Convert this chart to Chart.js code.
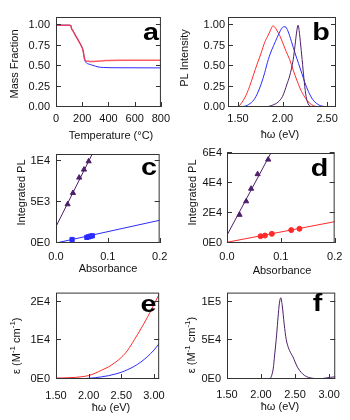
<!DOCTYPE html>
<html>
<head>
<meta charset="utf-8">
<script src="https://cdn.jsdelivr.net/npm/chart.js@4.4.1/dist/chart.umd.min.js"></script>
<style>
  body { margin: 0; background: #fff; }
  #fig { position: relative; width: 350px; height: 420px; overflow: hidden; }
  #fig canvas { position: absolute; }
</style>
</head>
<body>
<div id="fig"></div>
<script>
'use strict';

// (a) mass fraction vs temperature
const tgaTempRed = [0, 100, 114, 118, 126, 150, 175, 195, 205, 212, 218, 228, 250, 280, 320, 380, 500, 800];
const tgaMassRed = [1.0, 1.0, 0.995, 0.96, 0.94, 0.87, 0.80, 0.74, 0.70, 0.64, 0.59, 0.565, 0.558, 0.555, 0.56, 0.567, 0.57, 0.57];
const tgaTempBlue = [0, 100, 114, 118, 126, 150, 175, 195, 205, 212, 218, 228, 250, 280, 320, 360, 450, 800];
const tgaMassBlue = [1.0, 1.0, 0.995, 0.96, 0.94, 0.87, 0.80, 0.74, 0.70, 0.635, 0.58, 0.545, 0.525, 0.51, 0.49, 0.483, 0.48, 0.478];
const tempTicks = [0, 200, 400, 600, 800];
const tempLabels = ['0', '200', '400', '600', '800'];
const fracTicks = [0, 0.25, 0.5, 0.75, 1.0];
const fracLabels = ['0.00', '0.25', '0.50', '0.75', '1.00'];

// (b) normalised PL spectra
const plEnergyRed = [1.40, 1.50, 1.54, 1.58, 1.63, 1.67, 1.72, 1.76, 1.80, 1.84, 1.87, 1.89, 1.91, 1.94, 1.97, 2.00, 2.04, 2.08, 2.12, 2.16, 2.20, 2.25, 2.30, 2.35, 2.40, 2.60];
const plRed = [0, 0.005, 0.05, 0.12, 0.25, 0.38, 0.54, 0.66, 0.79, 0.88, 0.95, 0.99, 0.98, 0.93, 0.87, 0.79, 0.68, 0.58, 0.45, 0.33, 0.22, 0.12, 0.05, 0.015, 0.003, 0];
const plEnergyBlue = [1.40, 1.55, 1.62, 1.68, 1.72, 1.76, 1.80, 1.84, 1.88, 1.92, 1.96, 1.99, 2.01, 2.03, 2.06, 2.10, 2.14, 2.18, 2.22, 2.25, 2.29, 2.34, 2.38, 2.43, 2.50, 2.60];
const plBlue = [0, 0.005, 0.03, 0.09, 0.17, 0.28, 0.42, 0.58, 0.70, 0.80, 0.90, 0.96, 0.98, 0.98, 0.93, 0.80, 0.66, 0.53, 0.40, 0.30, 0.19, 0.09, 0.045, 0.015, 0.003, 0];
const plEnergyPurple = [1.40, 1.80, 1.88, 1.95, 2.00, 2.05, 2.08, 2.12, 2.14, 2.16, 2.175, 2.19, 2.20, 2.22, 2.24, 2.26, 2.28, 2.31, 2.35, 2.60];
const plPurple = [0, 0, 0.02, 0.06, 0.13, 0.28, 0.38, 0.58, 0.75, 0.93, 1.0, 0.9, 0.8, 0.58, 0.35, 0.16, 0.06, 0.01, 0.003, 0];
const plTicks = [1.5, 2.0, 2.5];
const plLabels = ['1.50', '2.00', '2.50'];

// (c) integrated PL vs absorbance
const cPurpleAbs = [0.0224, 0.0327, 0.0448, 0.054, 0.063];
const cPurplePL = [4720, 6100, 7970, 8950, 9960];
const cPurpleFitAbs = [0, 0.1];
const cPurpleFitPL = [2000, 14650];
const cBlueAbs = [0.031, 0.0595, 0.063, 0.0665, 0.070];
const cBluePL = [420, 690, 760, 830, 880];
const cBlueFitAbs = [0, 0.2];
const cBlueFitPL = [0, 2770];
const absTicks = [0, 0.1, 0.2];
const absLabels = ['0.0', '0.1', '0.2'];
const cTicks = [0, 5000, 10000];
const cLabels = ['0E0', '5E3', '1E4'];

// (d) integrated PL vs absorbance
const dPurpleAbs = [0.0233, 0.0356, 0.0448, 0.0569, 0.0765];
const dPurplePL = [18800, 27800, 36200, 45900, 55600];
const dPurpleFitAbs = [0, 0.1];
const dPurpleFitPL = [5200, 72400];
const dRedAbs = [0.0624, 0.0705, 0.0833, 0.1193, 0.1346];
const dRedPL = [4540, 5000, 6100, 8600, 9500];
const dRedFitAbs = [0, 0.2];
const dRedFitPL = [500, 14200];
const dTicks = [0, 20000, 40000, 60000];
const dLabels = ['0E0', '2E4', '4E4', '6E4'];

// (e) absorption spectra
const eEnergy = [1.50, 1.60, 1.70, 1.80, 1.90, 2.00, 2.10, 2.20, 2.30, 2.40, 2.50, 2.60, 2.70, 2.80, 2.90, 3.00, 3.08];
const eRed = [250, 280, 330, 420, 600, 900, 1500, 2300, 3100, 4200, 5600, 7500, 10200, 13000, 16000, 19300, 22000];
const eBlue = [0, 0, 20, 50, 100, 180, 330, 560, 850, 1250, 1750, 2450, 3300, 4400, 5800, 7500, 9200];
const epsTicks = [1.5, 2.0, 2.5, 3.0];
const epsLabels = ['1.50', '2.00', '2.50', '3.00'];
const eTicks = [0, 10000, 20000];
const eLabels = ['0E0', '1E4', '2E4'];

// (f) absorption spectrum
const fEnergy = [1.50, 1.70, 1.75, 1.80, 2.12, 2.15, 2.18, 2.20, 2.23, 2.25, 2.27, 2.29, 2.31, 2.34, 2.37, 2.40, 2.44, 2.47, 2.50, 2.54, 2.59, 2.64, 2.70, 2.77, 2.86, 2.95, 3.02, 3.10];
const fPurple = [0, 0, 500, 0, 0, 3000, 14000, 31000, 58000, 80000, 98000, 105000, 96000, 71000, 51000, 41000, 33000, 28500, 22000, 14600, 8500, 4500, 2000, 800, 400, 1200, 2200, 2800];
const fTicks = [0, 50000, 100000];
const fLabels = ['0E0', '5E4', '1E5'];

const RED = '#ff2a2a';
const BLUE = '#2b2bff';
const PURPLE = '#4e1f6b';
const FAMILY = '"Liberation Sans", Arial, sans-serif';

Chart.defaults.font.family = FAMILY;
Chart.defaults.font.size = 11;
Chart.defaults.color = '#111';

function pts(xs, ys) {
  return xs.map((x, i) => ({ x: x, y: ys[i] }));
}

function curve(xs, ys, color, width) {
  return {
    data: pts(xs, ys), showLine: true, pointRadius: 0,
    borderColor: color, borderWidth: width || 1,
    cubicInterpolationMode: 'monotone'
  };
}

function markers(xs, ys, color, style, r) {
  return {
    data: pts(xs, ys), showLine: false, pointStyle: style, pointRadius: r,
    backgroundColor: color, borderColor: color, borderWidth: 1
  };
}

function drawRich(ctx, parts) {
  const big = '11px ' + FAMILY, small = '8px ' + FAMILY;
  let w = 0;
  parts.forEach(p => { ctx.font = p[1] ? small : big; w += ctx.measureText(p[0]).width; });
  let x = -w / 2;
  ctx.textAlign = 'left';
  ctx.textBaseline = 'middle';
  parts.forEach(p => {
    ctx.font = p[1] ? small : big;
    ctx.fillText(p[0], x, p[1] ? -4 : 0);
    x += ctx.measureText(p[0]).width;
  });
}

function decor(spec) {
  return {
    id: 'decor',
    afterDraw(chart) {
      const ctx = chart.ctx;
      const a = chart.chartArea;
      const ox = spec.box[0], oy = spec.box[1];
      const xs = chart.scales.x, ys = chart.scales.y;
      ctx.save();
      ctx.strokeStyle = '#333';
      ctx.lineWidth = 1;
      ctx.strokeRect(a.left + 0.5, a.top + 0.5, a.right - a.left - 1, a.bottom - a.top - 1);
      ctx.beginPath();
      spec.xTicks.forEach(v => {
        const px = Math.round(xs.getPixelForValue(v)) + 0.5;
        ctx.moveTo(px, a.bottom);
        ctx.lineTo(px, a.bottom - 5);
      });
      spec.yTicks.forEach(v => {
        const py = Math.round(ys.getPixelForValue(v)) - 0.5;
        ctx.moveTo(a.left, py);
        ctx.lineTo(a.left + 5, py);
        ctx.moveTo(a.right, py);
        ctx.lineTo(a.right - 5, py);
      });
      ctx.stroke();

      ctx.fillStyle = '#111';
      ctx.save();
      ctx.translate(spec.xTitlePos[0] - ox, spec.xTitlePos[1] - oy);
      drawRich(ctx, spec.xTitle);
      ctx.restore();
      ctx.save();
      ctx.translate(spec.yTitlePos[0] - ox, spec.yTitlePos[1] - oy);
      ctx.rotate(-Math.PI / 2);
      drawRich(ctx, spec.yTitle);
      ctx.restore();

      ctx.save();
      ctx.fillStyle = '#000';
      ctx.font = 'bold 23px ' + FAMILY;
      ctx.textAlign = 'center';
      ctx.textBaseline = 'alphabetic';
      ctx.translate(spec.letterPos[0] - ox, spec.letterPos[1] - oy);
      ctx.scale(1.25, 1);
      ctx.fillText(spec.letter, 0, 0);
      ctx.restore();
      ctx.restore();
    }
  };
}

function makePanel(spec) {
  const bx = spec.box[0], by = spec.box[1], bw = spec.box[2], bh = spec.box[3];
  const p = spec.plot;
  const lh = 11 * 1.2;
  const canvas = document.createElement('canvas');
  canvas.width = bw;
  canvas.height = bh;
  canvas.style.left = bx + 'px';
  canvas.style.top = by + 'px';
  document.getElementById('fig').appendChild(canvas);

  new Chart(canvas, {
    type: 'scatter',
    data: { datasets: spec.datasets },
    options: {
      responsive: false,
      animation: false,
      layout: { padding: { left: 0, top: p.t - by, right: bx + bw - p.r, bottom: 0 } },
      plugins: { legend: { display: false }, tooltip: { enabled: false } },
      scales: {
        x: {
          type: 'linear', position: 'bottom',
          min: spec.xRange[0], max: spec.xRange[1],
          grid: { display: false, drawTicks: false },
          border: { display: false },
          afterBuildTicks: s => { s.ticks = spec.xTicks.map(v => ({ value: v })); },
          afterFit: s => { s.height = by + bh - p.b; },
          ticks: {
            autoSkip: false, maxRotation: 0,
            padding: spec.xLabelY - p.b - lh / 2,
            callback: (v, i) => spec.xLabels[i]
          }
        },
        y: {
          type: 'linear', position: 'left',
          min: spec.yRange[0], max: spec.yRange[1],
          grid: { display: false, drawTicks: false },
          border: { display: false },
          afterBuildTicks: s => { s.ticks = spec.yTicks.map(v => ({ value: v })); },
          afterFit: s => { s.width = p.l - bx; },
          ticks: {
            autoSkip: false,
            padding: spec.yLabelGap,
            callback: (v, i) => spec.yLabels[i]
          }
        }
      }
    },
    plugins: [decor(spec)]
  });
}

const ENERGY_TITLE = [['ħω (eV)', 0]];
const EPS_TITLE = [['ε (M', 0], ['-1', 1], [' cm', 0], ['-1', 1], [')', 0]];

makePanel({
  box: [0, 0, 175, 150], plot: { l: 56, t: 17, r: 165, b: 107 },
  xRange: [0, 800], yRange: [0, 1.1],
  xTicks: tempTicks, xLabels: tempLabels, yTicks: fracTicks, yLabels: fracLabels,
  xLabelY: 118.5, yLabelGap: 6,
  xTitle: [['Temperature (°C)', 0]], xTitlePos: [111, 135.5],
  yTitle: [['Mass Fraction', 0]], yTitlePos: [15, 64],
  letter: 'a', letterPos: [151, 40],
  datasets: [
    curve(tgaTempRed, tgaMassRed, 'rgba(255,50,60,0.8)', 1.5),
    curve(tgaTempBlue, tgaMassBlue, BLUE, 1)
  ]
});

makePanel({
  box: [175, 0, 175, 150], plot: { l: 228, t: 17, r: 336, b: 107 },
  xRange: [1.388, 2.6], yRange: [0, 1.1],
  xTicks: plTicks, xLabels: plLabels, yTicks: fracTicks, yLabels: fracLabels,
  xLabelY: 119, yLabelGap: 3,
  xTitle: ENERGY_TITLE, xTitlePos: [280, 135],
  yTitle: [['PL Intensity', 0]], yTitlePos: [185, 58],
  letter: 'b', letterPos: [321, 40],
  datasets: [
    curve(plEnergyPurple, plPurple, PURPLE),
    curve(plEnergyBlue, plBlue, BLUE),
    curve(plEnergyRed, plRed, RED)
  ]
});

makePanel({
  box: [0, 140, 175, 150], plot: { l: 56, t: 154, r: 166, b: 243 },
  xRange: [0, 0.2], yRange: [0, 10850],
  xTicks: absTicks, xLabels: absLabels, yTicks: cTicks, yLabels: cLabels,
  xLabelY: 257.3, yLabelGap: 6,
  xTitle: [['Absorbance', 0]], xTitlePos: [108, 269.3],
  yTitle: [['Integrated PL', 0]], yTitlePos: [21.7, 192.5],
  letter: 'c', letterPos: [149, 175],
  datasets: [
    markers(cPurpleAbs, cPurplePL, PURPLE, 'triangle', 3),
    markers(cBlueAbs, cBluePL, BLUE, 'rect', 3),
    curve(cPurpleFitAbs, cPurpleFitPL, PURPLE),
    curve(cBlueFitAbs, cBlueFitPL, BLUE)
  ]
});

makePanel({
  box: [175, 140, 175, 150], plot: { l: 227, t: 153, r: 336, b: 243 },
  xRange: [0, 0.2], yRange: [0, 60000],
  xTicks: absTicks, xLabels: absLabels, yTicks: dTicks, yLabels: dLabels,
  xLabelY: 257.3, yLabelGap: 5,
  xTitle: [['Absorbance', 0]], xTitlePos: [282, 270.7],
  yTitle: [['Integrated PL', 0]], yTitlePos: [193.3, 192.5],
  letter: 'd', letterPos: [319.5, 175.5],
  datasets: [
    markers(dPurpleAbs, dPurplePL, PURPLE, 'triangle', 3),
    markers(dRedAbs, dRedPL, RED, 'circle', 2.5),
    curve(dPurpleFitAbs, dPurpleFitPL, PURPLE),
    curve(dRedFitAbs, dRedFitPL, RED)
  ]
});

makePanel({
  box: [0, 280, 175, 140], plot: { l: 56, t: 287, r: 166, b: 379 },
  xRange: [1.5, 3.08], yRange: [0, 22400],
  xTicks: epsTicks, xLabels: epsLabels, yTicks: eTicks, yLabels: eLabels,
  xLabelY: 395.5, yLabelGap: 6,
  xTitle: ENERGY_TITLE, xTitlePos: [111, 407.7],
  yTitle: EPS_TITLE, yTitlePos: [16.7, 345.7],
  letter: 'e', letterPos: [148.5, 311.7],
  datasets: [
    curve(eEnergy, eRed, RED),
    curve(eEnergy, eBlue, BLUE)
  ]
});

makePanel({
  box: [175, 280, 175, 140], plot: { l: 227, t: 287, r: 336, b: 379 },
  xRange: [1.5, 3.09], yRange: [0, 111700],
  xTicks: epsTicks, xLabels: epsLabels, yTicks: fTicks, yLabels: fLabels,
  xLabelY: 395, yLabelGap: 6,
  xTitle: ENERGY_TITLE, xTitlePos: [280, 406.7],
  yTitle: EPS_TITLE, yTitlePos: [191.7, 345],
  letter: 'f', letterPos: [317.5, 311],
  datasets: [
    curve(fEnergy, fPurple, PURPLE)
  ]
});
</script>
</body>
</html>
